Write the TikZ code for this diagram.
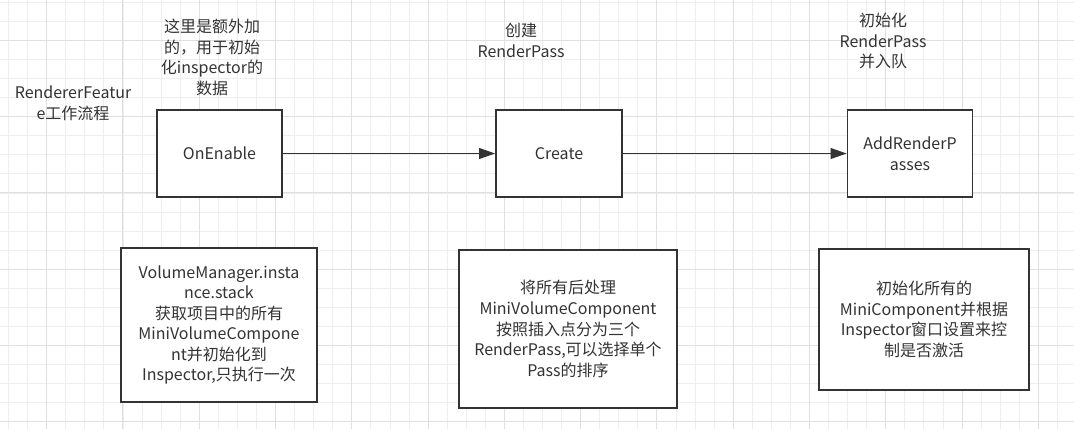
\documentclass[tikz,border=0pt]{standalone}
\usepackage{fontspec}
\setmainfont{Noto Sans CJK SC}
\usepackage{xcolor}
\usetikzlibrary{positioning,arrows.meta}

\definecolor{inkgray}{HTML}{333333}
\definecolor{gridminor}{HTML}{EEEEEE}
\definecolor{gridmajor}{HTML}{E0E0E0}

\begin{document}
\begin{tikzpicture}[x=0.75pt, y=-0.75pt,
  stepbox/.style={draw=inkgray, line width=1.2pt, fill=white, align=center, text=inkgray, inner sep=0pt, font=\fontsize{12}{15.4}\selectfont},
  note/.style={align=center, text=inkgray, inner sep=0pt, font=\fontsize{12}{15.4}\selectfont},
  arr/.style={-{Triangle[length=12pt, width=8pt]}, draw=inkgray, line width=1.2pt}
]

\useasboundingbox (0,0) rectangle (1074,429);
\fill[white] (0,0) rectangle (1074,429);

% background grid
\foreach \gx in {0,...,56} \draw[gridminor, line width=0.75pt] ({8.6+19.07*\gx},0) -- ++(0,429);
\foreach \gy in {0,...,22} \draw[gridminor, line width=0.75pt] (0,{2.3+19.07*\gy}) -- ++(1074,0);
\foreach \gx in {0,...,13} \draw[gridmajor, line width=0.75pt] ({46.7+76.28*\gx},0) -- ++(0,429);
\foreach \gy in {0,...,5} \draw[gridmajor, line width=0.75pt] (0,{40.4+76.28*\gy}) -- ++(1074,0);

\node[note] (title) at (73, 103) {RendererFeatur\\e工作流程};

\node[stepbox, minimum width=93.75pt, minimum height=65.25pt] (onenable) at (219.5, 153.5) {OnEnable};
\node[stepbox, minimum width=94.5pt, minimum height=65.25pt] (create) at (559, 153.5) {Create};
\node[stepbox, minimum width=93.75pt, minimum height=65.25pt] (addpasses) at (910, 153.5) {AddRenderP\\asses};

\node[note] (onenablenote) at (212, 57.5) {这里是额外加\\的，用于初始\\化inspector的\\数据};
\node[note] (createnote) at (521, 40.5) {创建\\RenderPass};
\node[note] (addnote) at (883, 41) {初始化\\RenderPass\\并入队};

\node[stepbox, minimum width=147pt, minimum height=115.5pt] (volumebox) at (219, 325) {VolumeManager.insta\\nce.stack\\获取项目中的所有\\MiniVolumeCompone\\nt并初始化到\\Inspector,只执行一次};
\node[stepbox, minimum width=163.5pt, minimum height=118.5pt] (sortbox) at (568, 329) {将所有后处理\\MiniVolumeComponent\\按照插入点分为三个\\RenderPass,可以选择单个\\Pass的排序};
\node[stepbox, minimum width=157.5pt, minimum height=105.75pt] (activebox) at (924, 319.5) {初始化所有的\\MiniComponent并根据\\Inspector窗口设置来控\\制是否激活};

\draw[arr] (onenable) -- (create);
\draw[arr] (create) -- (addpasses);

\end{tikzpicture}
\end{document}
